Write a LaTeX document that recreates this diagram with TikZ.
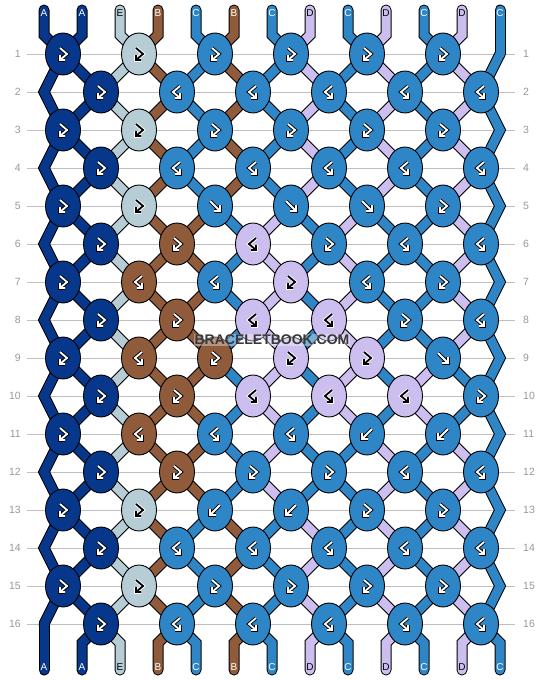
\documentclass[tikz,border=0pt]{standalone}
\usepackage{fontspec}
\setmainfont{Liberation Sans}
\usetikzlibrary{shapes.geometric}

\definecolor{colA}{HTML}{07378A}
\definecolor{colB}{HTML}{8F5B3B}
\definecolor{colC}{HTML}{2F86C7}
\definecolor{colD}{HTML}{CDBEF0}
\definecolor{colE}{HTML}{B7CDD6}
\colorlet{inkA}{white}\colorlet{inkB}{white}\colorlet{inkC}{white}
\colorlet{inkD}{black}\colorlet{inkE}{black}
\colorlet{rimA}{black}\colorlet{rimB}{black}\colorlet{rimC}{black}
\colorlet{rimD}{white}\colorlet{rimE}{white}

\pgfdeclarelayer{grid}
\pgfdeclarelayer{threads}
\pgfsetlayers{grid,threads,main}

\def\stA{A,A,E,B,C,B,C,D,C,D,C,D,C}
\def\stB{A,A,E,B,B,C,D,C,D,C,C,D,C}
\def\stC{A,A,E,B,B,C,D,C,D,C,D,C,C}
\def\stD{A,A,E,B,B,C,D,C,C,D,C,D,C}

\newcommand\pointof[3]{%
  \ifodd#2\relax
    \ifnum#3<13\relax\pgfmathtruncatemacro\kk{(#3+1)/2}\edef#1{k#2-\kk}\else\edef#1{e#2}\fi
  \else
    \ifnum#3>1\relax\pgfmathtruncatemacro\kk{#3/2}\edef#1{k#2-\kk}\else\edef#1{e#2}\fi
  \fi}

\tikzset{
  knot/.style={ellipse, draw=black, line width=0.9pt, minimum width=35pt, minimum height=42pt, inner sep=0pt},
  icon-fw/.style={insert path={(-5,-5)--(5,5) (5,-1)--(5,5)--(-1,5)}},
  icon-bw/.style={insert path={(5,-5)--(-5,5) (-5,-1)--(-5,5)--(1,5)}},
  icon-fb/.style={insert path={(-3,-6)--(4,0)--(-3,6) (-3,1)--(-3,6)--(2,6)}},
  icon-bf/.style={insert path={(3,-6)--(-4,0)--(3,6) (3,1)--(3,6)--(-2,6)}},
  tag/.style={font=\fontsize{10}{12}\selectfont, inner sep=0pt},
  rownum/.style={font=\fontsize{10.5}{12}\selectfont, text=black!40, inner sep=0pt},
  gridline/.style={draw=black!25, line width=1pt},
  watermark/.style={font=\bfseries\fontsize{14}{16}\selectfont, text=black!78, fill=white, fill opacity=0.35, text opacity=1, inner sep=1pt}
}

\begin{document}
\begin{tikzpicture}[x=1pt, y=-1pt]
\useasboundingbox (0,0) rectangle (544,680);

\foreach \r/\row in {
  1/{A/fb,E/fb,C/fb,C/fb,C/fb,C/fb},
  2/{A/fb,C/bf,C/bf,C/bf,C/bf,C/bf},
  3/{A/fb,E/fb,C/fb,C/fb,C/fb,C/fb},
  4/{A/fb,C/bf,C/bf,C/bf,C/bf,C/bf},
  5/{A/fb,E/fb,C/fw,C/fw,C/fw,C/fb},
  6/{A/fb,B/fb,D/bf,C/fb,C/bf,C/bf},
  7/{A/fb,B/bf,C/bf,D/fb,C/bf,C/fb},
  8/{A/fb,B/fb,D/bf,D/bf,C/fb,C/bf},
  9/{A/fb,B/bf,B/fb,D/fb,D/fb,C/fw},
  10/{A/fb,B/fb,D/bf,D/bf,D/bf,C/fb},
  11/{A/fb,B/bf,C/bf,C/bf,C/bw,C/bw},
  12/{A/fb,B/fb,C/fb,C/fb,C/bf,C/bf},
  13/{A/fb,E/fb,C/bw,C/bw,C/fb,C/fb},
  14/{A/fb,C/bf,C/bf,C/bf,C/bf,C/bf},
  15/{A/fb,E/fb,C/fb,C/fb,C/fb,C/fb},
  16/{A/fb,C/bf,C/bf,C/bf,C/bf,C/bf}} {
  \foreach \cl/\ty [count=\k] in \row {
    \pgfmathsetmacro\kx{mod(\r,2)==1 ? 76*\k-13 : 76*\k+25}
    \node[knot, fill=col\cl] (k\r-\k) at (\kx, 38*\r+16) {};
    \draw[shift={(k\r-\k)}, icon-\ty, draw=rim\cl, line width=3.6pt];
    \draw[shift={(k\r-\k)}, icon-\ty, draw=ink\cl, line width=1.8pt];
  }
}

\foreach \r in {1,...,16} {
  \pgfmathsetmacro\ex{mod(\r,2)==1 ? 500 : 44}
  \coordinate (e\r) at (\ex, 38*\r+16);
}
\foreach \p in {1,...,13} {
  \coordinate (c\p) at (38*\p+6, 10);
  \coordinate (t\p) at (38*\p+6, 35);
  \coordinate (b\p) at (38*\p+6, 643);
  \coordinate (d\p) at (38*\p+6, 670);
}

\begin{pgfonlayer}{threads}
\foreach \pass/\lw in {0/11pt,1/9pt} {
  \foreach \cl [count=\p] in \stA {
    \ifnum\pass=0 \def\dc{black}\else\edef\dc{col\cl}\fi
    \pointof\pa{1}{\p}
    \draw[line width=\lw, draw=\dc, line cap=round] (c\p) -- (t\p) -- (\pa.center);
  }
  \foreach \r/\s in {1/A,2/A,3/A,4/A,5/B,6/B,7/B,8/B,9/C,10/C,11/D,12/D,13/A,14/A,15/A} {
    \edef\lst{\csname st\s\endcsname}
    \pgfmathtruncatemacro\rn{\r+1}
    \pgfmathtruncatemacro\rnn{\r+2}
    \foreach \cl [count=\p] in \lst {
      \ifnum\pass=0 \def\dc{black}\else\edef\dc{col\cl}\fi
      \def\mode{0}
      \ifnum\p=1 \ifodd\r\relax\ifnum\rn<16 \def\mode{1}\fi\else\def\mode{2}\fi\fi
      \ifnum\p=13 \ifodd\r\relax\ifnum\r>1 \def\mode{2}\fi\else\def\mode{1}\fi\fi
      \pointof\pa{\r}{\p}\pointof\pb{\rn}{\p}
      \ifnum\mode=0
        \draw[line width=\lw, draw=\dc, line cap=round] (\pa.center) -- (\pb.center);
      \fi
      \ifnum\mode=1
        \pointof\pc{\rnn}{\p}
        \draw[line width=\lw, draw=\dc, line cap=round] (\pa.center) -- (\pb.center) -- (\pc.center);
      \fi
    }
  }
  \foreach \cl [count=\p] in \stA {
    \ifnum\pass=0 \def\dc{black}\else\edef\dc{col\cl}\fi
    \pointof\pa{16}{\p}
    \draw[line width=\lw, draw=\dc, line cap=round] (\pa.center) -- (b\p) -- (d\p);
  }
}
\end{pgfonlayer}

\begin{pgfonlayer}{grid}
\fill[white] (0,0) rectangle (544,680);
\foreach \r in {1,...,16} {
  \draw[gridline] (27, 38*\r+16) -- (515, 38*\r+16);
  \node[rownum, anchor=east] (nl\r) at (21, 38*\r+16) {\r};
  \node[rownum, anchor=west] (nr\r) at (523, 38*\r+16) {\r};
}
\end{pgfonlayer}

\foreach \cl [count=\p] in \stA {
  \node[tag, text=ink\cl] (top\p) at (38*\p+6, 13) {\cl};
  \node[tag, text=ink\cl] (bot\p) at (38*\p+6, 667) {\cl};
}

\node[watermark] (wm) at (272, 340) {BRACELETBOOK.COM};
\end{tikzpicture}
\end{document}
